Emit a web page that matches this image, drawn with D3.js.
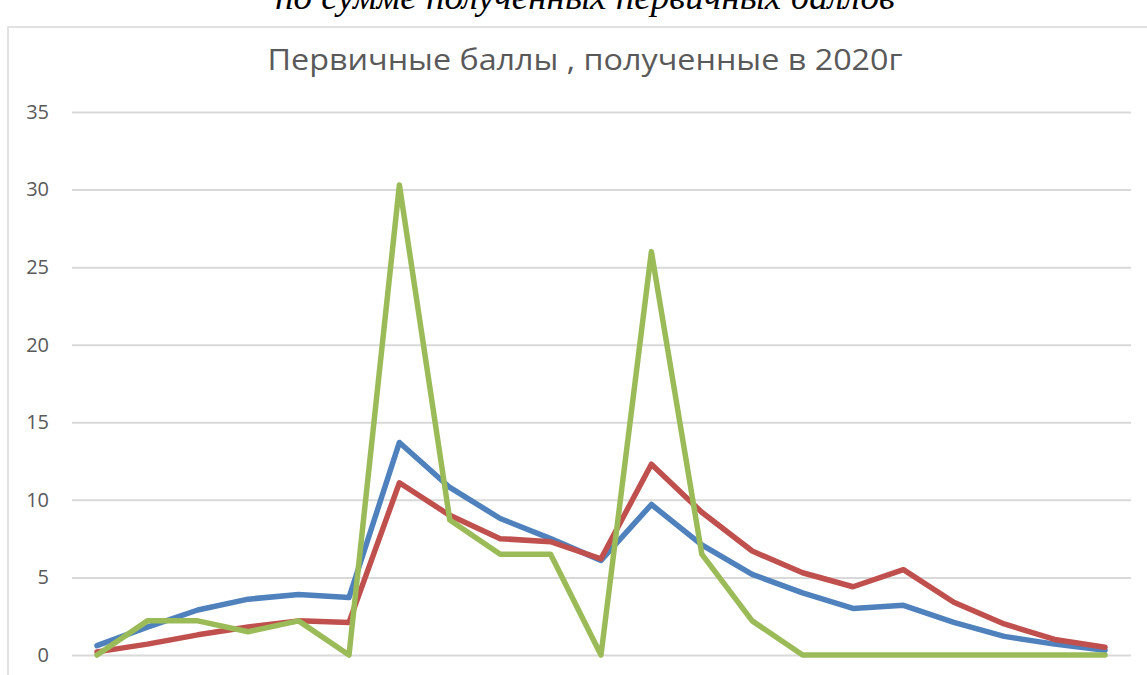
<!DOCTYPE html>
<html>
<head>
<meta charset="utf-8">
<script src="https://cdn.jsdelivr.net/npm/d3@7"></script>
<style>
  body { margin: 0; background: #fff; overflow: hidden; }
</style>
</head>
<body>
<div id="wrapper"></div>
<script>
// categories (primary score points, no labels shown on the chart)
const categories = d3.range(0, 21)

const blueValues = [0.6, 1.8, 2.9, 3.6, 3.9, 3.7, 13.7, 10.8, 8.8, 7.5, 6.1,
  9.7, 7.1, 5.2, 4.0, 3.0, 3.2, 2.1, 1.2, 0.7, 0.3]
const redValues = [0.2, 0.7, 1.3, 1.8, 2.2, 2.1, 11.1, 9.0, 7.5, 7.3, 6.2,
  12.3, 9.2, 6.7, 5.3, 4.4, 5.5, 3.4, 2.0, 1.0, 0.5]
const greenValues = [0, 2.2, 2.2, 1.5, 2.2, 0, 30.3, 8.7, 6.5, 6.5, 0,
  26.0, 6.5, 2.2, 0, 0, 0, 0, 0, 0, 0]

const yTicks = [0, 5, 10, 15, 20, 25, 30, 35]

const title = "Первичные баллы , полученные в 2020г"
const topCaption = "по сумме полученных первичных баллов"

function drawChart() {
  const wrapper = d3.select("#wrapper")
    .append("svg")
      .attr("width", 1147)
      .attr("height", 675)

  // caption from the document above the chart, cut off at the top
  wrapper.append("text")
      .attr("x", 585)
      .attr("y", 9)
      .attr("text-anchor", "middle")
      .attr("font-family", "'Liberation Serif', serif")
      .attr("font-style", "italic")
      .attr("font-size", 36)
      .attr("textLength", 620)
      .attr("lengthAdjust", "spacingAndGlyphs")
      .attr("fill", "#000")
      .text(topCaption)

  // chart frame
  wrapper.append("rect")
      .attr("x", 8)
      .attr("y", 27)
      .attr("width", 1160)
      .attr("height", 700)
      .attr("fill", "#fff")
      .attr("stroke", "#d9d9d9")
      .attr("stroke-width", 1.5)

  wrapper.append("text")
      .attr("x", 585)
      .attr("y", 70)
      .attr("text-anchor", "middle")
      .attr("font-family", "'Open Sans', sans-serif")
      .attr("font-size", 29)
      .attr("textLength", 635)
      .attr("lengthAdjust", "spacingAndGlyphs")
      .attr("fill", "#595959")
      .text(title)

  const xScale = d3.scalePoint()
      .domain(categories)
      .range([97, 1105])

  const yScale = d3.scaleLinear()
      .domain([0, 35])
      .range([655, 112])

  // y axis with gridlines
  const yAxisGenerator = d3.axisLeft(yScale)
      .tickValues(yTicks)
      .tickSize(-(1131 - 72))
      .tickPadding(23)

  const yAxis = wrapper.append("g")
      .attr("transform", "translate(72, 0)")
      .call(yAxisGenerator)

  yAxis.select(".domain").remove()
  yAxis.selectAll(".tick line")
      .attr("stroke", "#d9d9d9")
      .attr("stroke-width", 2)
  yAxis.selectAll(".tick text")
      .attr("fill", "#595959")
      .attr("font-family", "'Open Sans', sans-serif")
      .attr("font-size", 20)

  const series = [
    { values: blueValues, color: "#4f81bd" },
    { values: redValues, color: "#c0504d" },
    { values: greenValues, color: "#9bbb59" }
  ]

  const lineGenerator = d3.line()
      .x((d, i) => xScale(categories[i]))
      .y(d => yScale(d))

  wrapper.append("g")
    .selectAll("path")
    .data(series)
    .enter().append("path")
      .attr("d", d => lineGenerator(d.values))
      .attr("fill", "none")
      .attr("stroke", d => d.color)
      .attr("stroke-width", 5.5)
      .attr("stroke-linejoin", "round")
      .attr("stroke-linecap", "round")
}
drawChart()
</script>
</body>
</html>
